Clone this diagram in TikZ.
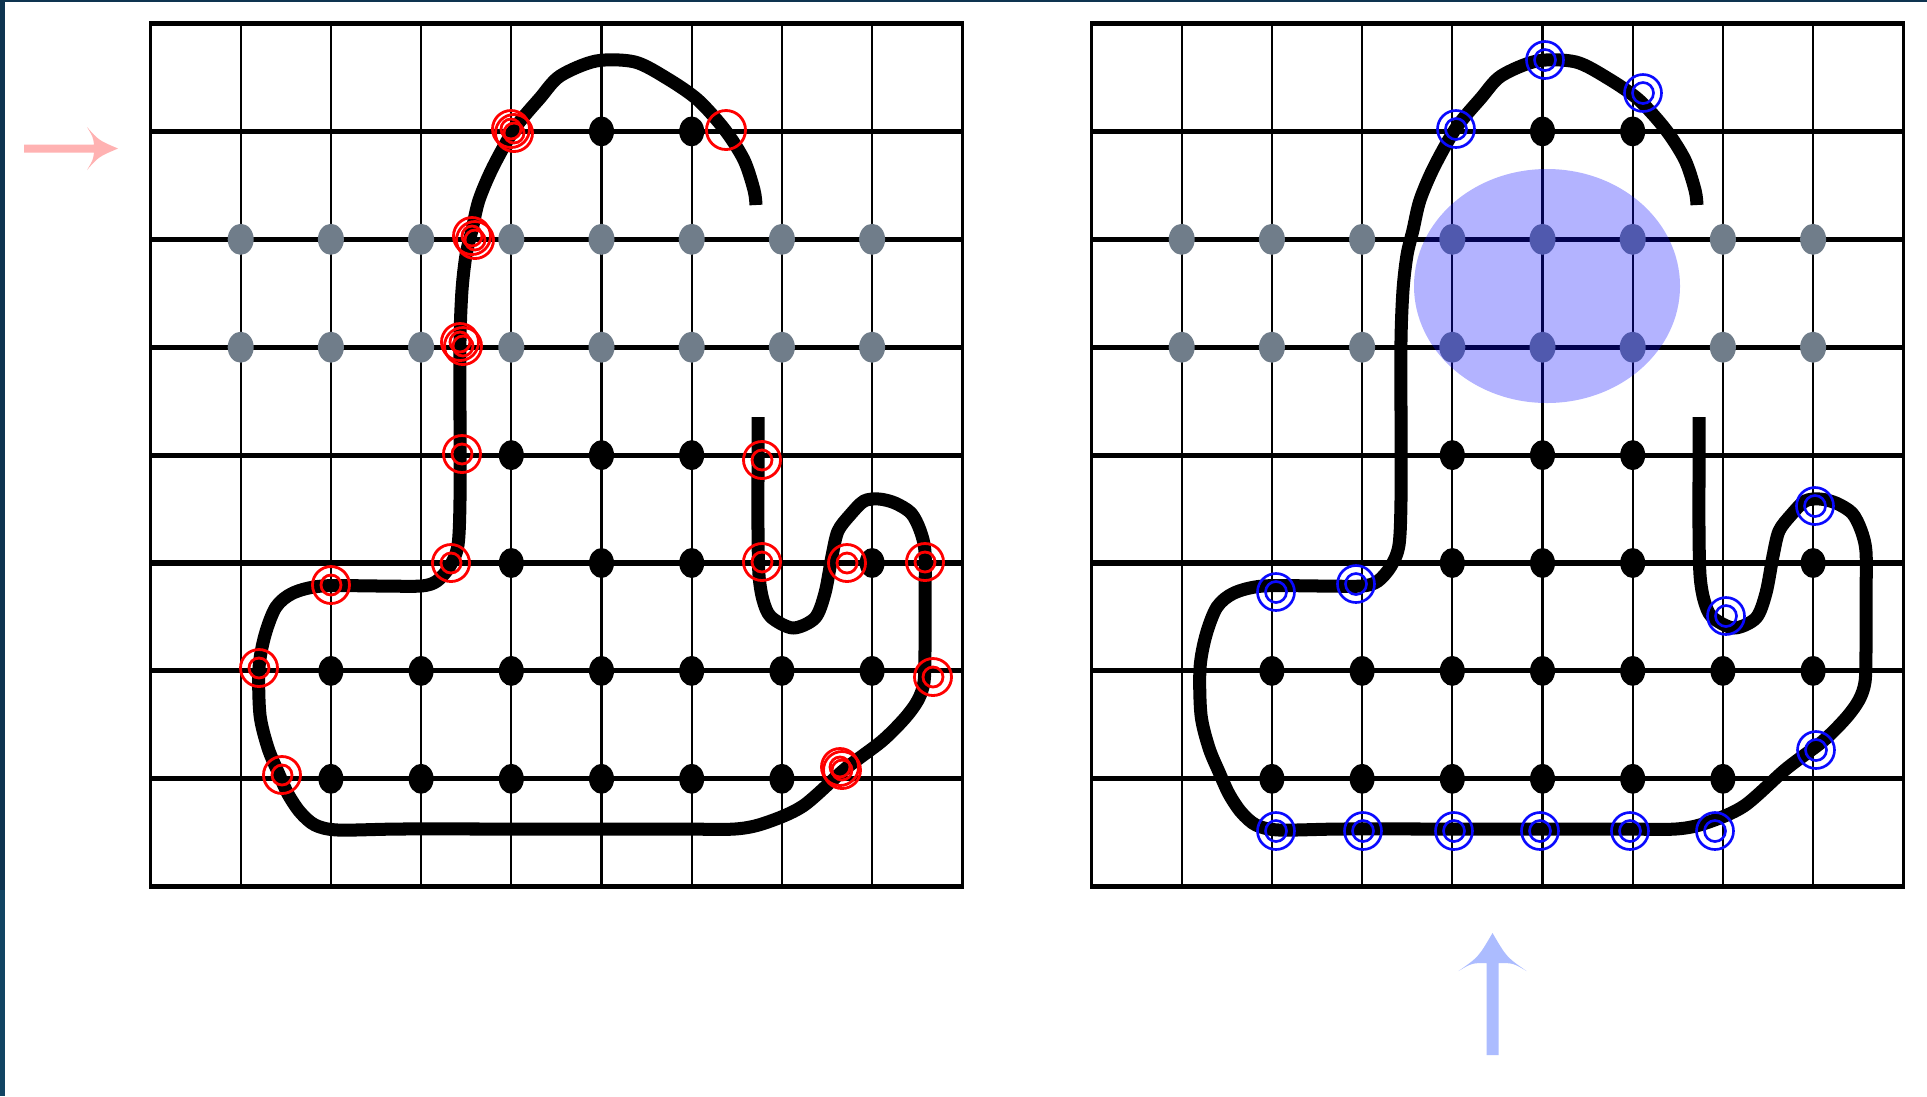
\documentclass[tikz,border=0pt]{standalone}
\definecolor{navy}{RGB}{14,52,80}
\definecolor{navyb}{RGB}{17,68,99}
\definecolor{slate}{RGB}{112,125,138}
\definecolor{pinkarrow}{RGB}{255,178,178}
\definecolor{bluearrow}{RGB}{172,188,255}
\definecolor{tred}{RGB}{255,0,0}
\definecolor{tblue}{RGB}{10,10,255}
\begin{document}
\begin{tikzpicture}[x=0.01cm,y=-0.01cm,
  hline/.style={line width=1.45pt},
  vline/.style={line width=0.6pt},
  fline/.style={line width=0.95pt},
  curveline/.style={line width=3.7pt, line join=round},
  redring/.style={draw=tred, line width=0.8pt},
  bluering/.style={draw=tblue, line width=0.75pt},
  blobstyle/.style={fill=tblue, opacity=0.31}
]
\useasboundingbox (0,0) rectangle (1927,1096);
\fill[white] (0,0) rectangle (1927,1096);
% frame bands
\fill[navy] (0,0) rectangle (1927,2.2);
\fill[navy] (0,0) rectangle (5,890);
\fill[navyb] (0,890) rectangle (5,1096);

\foreach \ox in {0,941}{
  \begin{scope}[shift={(\ox,0)}]
    % grid
    \foreach \j in {0,...,8}
      \draw[hline] (149,{23.5+107.9*\j}) -- (963.8,{23.5+107.9*\j});
    \foreach \i in {1,...,8}
      \draw[vline] ({150.5+90.2*\i},23.5) -- ({150.5+90.2*\i},886.7);
    \draw[fline] (150.5,23.5) -- (150.5,886.7) (962.3,23.5) -- (962.3,886.7);
    % gray dots
    \foreach \j in {2,3}
      \foreach \i in {1,...,8}
        \fill[slate] ({150.5+90.2*\i},{23.5+107.9*\j}) ellipse [x radius=13, y radius=15.5];
    % black dots
    \foreach \i/\j in {5/1,6/1,4/4,5/4,6/4,4/5,5/5,6/5,8/5,
                       2/6,3/6,4/6,5/6,6/6,7/6,8/6,
                       2/7,3/7,4/7,5/7,6/7,7/7}
      \fill[black] ({150.5+90.2*\i},{23.5+107.9*\j}) ellipse [x radius=12.5, y radius=15];
    % curve
    \draw[curveline] plot[smooth,tension=0.5] coordinates {
      (758,417) (758,470) (758,530) (759,575) (763,600) (771,617) (793,628)
      (815,618) (825,593) (832,556) (838,531) (850,515) (864,501) (879,499)
      (895,503) (911,513) (920,530) (925,552) (925,600) (925,650) (924,682)
      (918,700) (905,718) (882,741) (845,769) (803,806) (765,823) (735,829)
      (680,829) (600,829) (500,829) (400,829) (338,830) (315,825) (300,812)
      (288,794) (278,772) (268,748) (260,715) (259,668) (265,635) (276,607)
      (293,593) (322,586)
      (380,586) (421,586) (437,581) (450,566) (458,545) (460,500) (460,420)
      (460,340) (462,290) (466,255) (472,230) (479,200) (493,167) (515,128)
      (540,98) (560,76) (596,61) (635,62) (668,79) (698,100) (725,130)
      (744,160) (754,190) (756,205)};
  \end{scope}
}

% blue ellipse
\fill[blobstyle] (1547,286) ellipse [x radius=133, y radius=117];

% red targets (left panel)
\foreach \x/\y in {511/129,472/236,460/342,462/454,451/563,331/585,259/668,
                   282/775,762/460,762/562,847/563,925/562,933/677,842/770}
  {\draw[redring] (\x,\y) circle [radius=18.5] (\x,\y) circle [radius=10];}
\foreach \x/\y in {514/133,475/240,463/346,840/767}
  {\draw[redring] (\x,\y) circle [radius=18.5] (\x,\y) circle [radius=10];}
\draw[redring] (726,130) circle [radius=19.5];

% blue targets (right panel)
\foreach \x/\y in {1456/129,1545/60,1643/93,1815/506,1726/616,1276/592,1356/584,
                   1816/750,1276/831,1363/831,1454/831,1540/831,1630/831,1715/831}
  {\draw[bluering] (\x,\y) circle [radius=18.5] (\x,\y) circle [radius=10.5];}

% pink arrow (pointing right)
\fill[pinkarrow] (24,144.5) -- (94,144.5) .. controls (93,137) .. (87,127)
  .. controls (98.7,140.3) .. (118,148.5) .. controls (98.7,156.7) .. (87,170)
  .. controls (93,160) .. (94,152.5) -- (24,152.5) -- cycle;

% blue arrow (pointing up)
\fill[bluearrow] (1486.5,1055) -- (1486.5,963) .. controls (1472,963) .. (1458.5,971)
  .. controls (1478.5,957) .. (1492.5,933) .. controls (1506.5,957) .. (1526.5,971)
  .. controls (1513,963) .. (1498.5,963) -- (1498.5,1055) -- cycle;
\end{tikzpicture}
\end{document}
